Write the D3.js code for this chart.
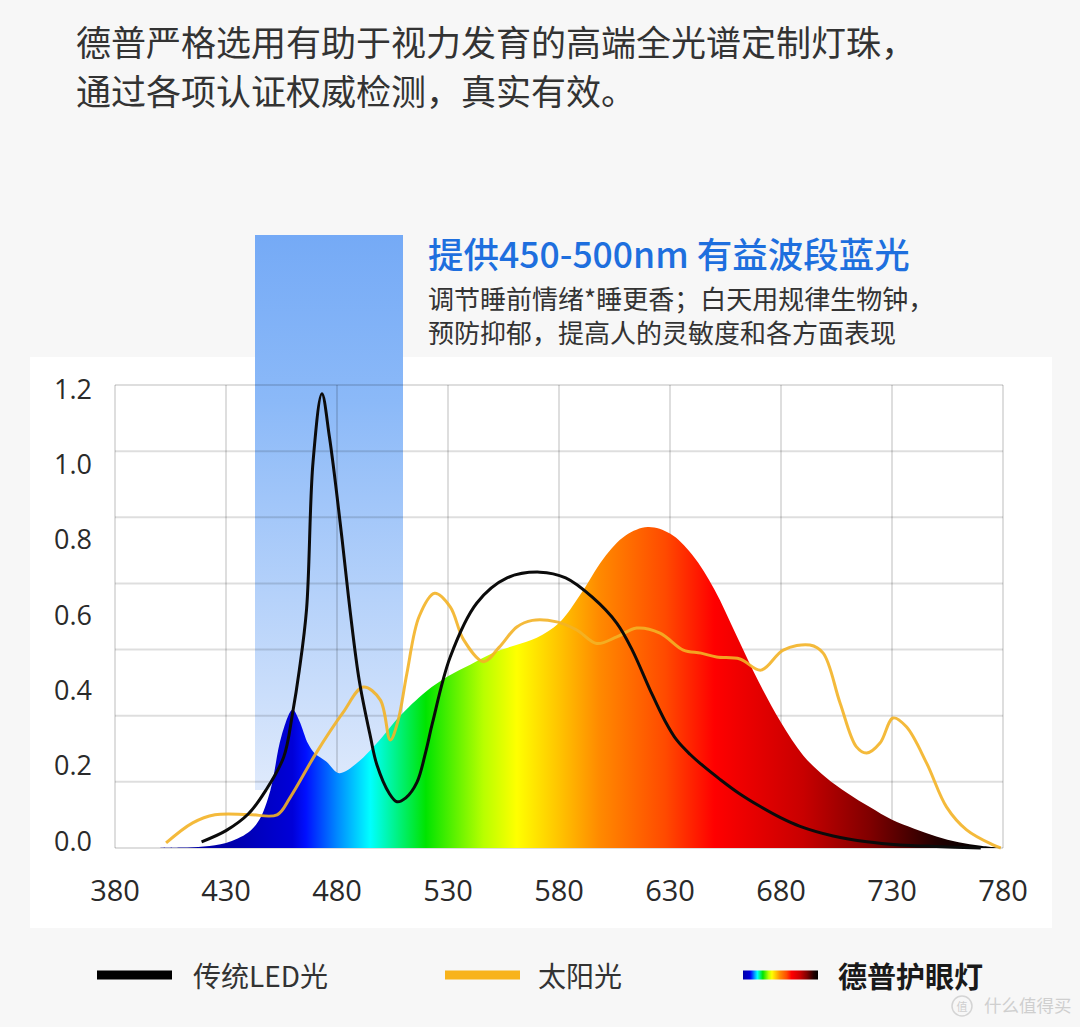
<!DOCTYPE html>
<html>
<head>
<meta charset="utf-8">
<script src="https://cdn.jsdelivr.net/npm/d3@7"></script>
<style>
  html, body { margin: 0; padding: 0; background: #f7f7f7; }
  svg { display: block; }
</style>
</head>
<body>
<svg id="chart" width="1080" height="1027"></svg>
<script>
// ---------- DATA ----------
const titleLines = ["德普严格选用有助于视力发育的高端全光谱定制灯珠，", "通过各项认证权威检测，真实有效。"];
const calloutTitle = "提供450-500nm 有益波段蓝光";
const calloutLines = ["调节睡前情绪*睡更香；白天用规律生物钟，", "预防抑郁，提高人的灵敏度和各方面表现"];
const seriesNames = ["传统LED光", "太阳光", "德普护眼灯"];
const xTicks = [380, 430, 480, 530, 580, 630, 680, 730, 780];
const yTicks = [0.0, 0.2, 0.4, 0.6, 0.8, 1.0, 1.2];
const blueBand = [450, 500];

// 德普护眼灯 spectrum (nm, relative intensity)
const lampNm  = [400, 410, 420, 430, 440, 445, 450, 455, 460, 463, 467, 470, 475, 481, 489, 500, 508, 520, 530, 540, 550, 560, 570, 580, 590, 600, 610, 620, 630, 640, 650, 660, 670, 680, 690, 700, 710, 720, 730, 740, 750, 760, 770, 780];
const lampVal = [0, 0.001, 0.004, 0.013, 0.04, 0.073, 0.15, 0.29, 0.358, 0.33, 0.27, 0.245, 0.225, 0.194, 0.22, 0.285, 0.34, 0.405, 0.445, 0.475, 0.505, 0.525, 0.545, 0.583, 0.66, 0.75, 0.81, 0.832, 0.815, 0.76, 0.67, 0.55, 0.43, 0.325, 0.24, 0.184, 0.142, 0.106, 0.073, 0.05, 0.03, 0.015, 0.006, 0];

// 传统LED光
const ledNm  = [419, 430, 440, 448, 456, 460, 463, 466.3, 469.2, 473.2, 476.6, 482.3, 486, 490, 495, 498, 503.5, 507, 511, 516, 520, 523, 531, 543, 556.6, 571.4, 583, 595, 606, 613, 621, 627.7, 633, 639, 645.5, 652.5, 661, 670.5, 680, 688.6, 703.5, 718.7, 733.6, 750, 770];
const ledVal = [0.016, 0.045, 0.088, 0.15, 0.236, 0.35, 0.46, 0.62, 1.0, 1.177, 1.065, 0.8, 0.61, 0.435, 0.29, 0.215, 0.142, 0.12, 0.13, 0.17, 0.25, 0.324, 0.495, 0.635, 0.70, 0.715, 0.70, 0.65, 0.583, 0.513, 0.41, 0.33, 0.28, 0.243, 0.21, 0.178, 0.142, 0.108, 0.078, 0.056, 0.031, 0.016, 0.008, 0.004, 0];

// 太阳光
const sunNm  = [403, 415, 425, 440, 453, 459, 470.6, 482.6, 491.8, 499.5, 504, 507.5, 511.5, 517, 524, 531, 537, 546, 553, 561, 568, 579, 588, 597, 606, 615, 625.5, 636, 644, 651, 661.5, 671, 681, 693, 699, 706.6, 714, 718.6, 724.6, 730.5, 736.5, 745.6, 754.6, 763.6, 775.5, 779];
const sunVal = [0.013, 0.065, 0.086, 0.087, 0.086, 0.132, 0.246, 0.35, 0.417, 0.384, 0.28, 0.33, 0.453, 0.6, 0.66, 0.625, 0.54, 0.483, 0.52, 0.573, 0.59, 0.586, 0.565, 0.53, 0.547, 0.57, 0.557, 0.513, 0.505, 0.495, 0.49, 0.461, 0.513, 0.526, 0.505, 0.376, 0.262, 0.246, 0.272, 0.337, 0.314, 0.22, 0.106, 0.047, 0.008, 0];

// spectrum colour stops (nm, colour)
const specStopNm    = [430, 460, 466, 480, 495, 520, 546, 561, 580, 598, 628, 650, 690, 720, 750, 770];
const specStopColor = ["#0000a8", "#0000d8", "#0010ff", "#0088ff", "#00ffff", "#00e400", "#b8ff00", "#ffff00", "#ffc400", "#ff8a00", "#ff4a00", "#ff0000", "#c80000", "#800000", "#220000", "#000000"];

// ---------- DRAW ----------
const svg = d3.select("#chart");
const W = 1080, H = 1027;

const x = d3.scaleLinear().domain([380, 780]).range([115, 1003]);
const y = d3.scaleLinear().domain([0, 1.2]).range([848, 385]);
// tick labels sit on their own (slightly different) spacing in the original
const yLab = d3.scaleLinear().domain([0, 1.2]).range([840, 388]);

svg.append("rect").attr("width", W).attr("height", H).attr("fill", "#f7f7f7");
svg.append("rect").attr("x", 30).attr("y", 357).attr("width", 1022).attr("height", 571).attr("fill", "#ffffff");

const defs = svg.append("defs");
const bandGrad = defs.append("linearGradient").attr("id", "bandGrad")
  .attr("x1", 0).attr("y1", 0).attr("x2", 0).attr("y2", 1);
bandGrad.append("stop").attr("offset", "0%").attr("stop-color", "#75aaf6");
bandGrad.append("stop").attr("offset", "30%").attr("stop-color", "#8bb9f8");
bandGrad.append("stop").attr("offset", "100%").attr("stop-color", "#dfeafc");

const specGrad = defs.append("linearGradient").attr("id", "specGrad")
  .attr("gradientUnits", "userSpaceOnUse")
  .attr("x1", x(380)).attr("y1", 0).attr("x2", x(780)).attr("y2", 0);
specStopNm.forEach((nm, i) => {
  specGrad.append("stop").attr("offset", (nm - 380) / 400).attr("stop-color", specStopColor[i]);
});
const legGrad = defs.append("linearGradient").attr("id", "legGrad");
specStopNm.forEach((nm, i) => {
  legGrad.append("stop").attr("offset", (nm - 430) / 340).attr("stop-color", specStopColor[i]);
});

// blue band highlight
svg.append("rect")
  .attr("x", 255).attr("y", 235)
  .attr("width", 148).attr("height", 790 - 235)
  .attr("fill", "url(#bandGrad)");

// grid
const g = svg.append("g");
const gridRows = d3.range(8).map(i => 848 - i * (848 - 385) / 7);
g.selectAll(".hg").data(gridRows).join("line")
  .attr("x1", x(380)).attr("x2", x(780))
  .attr("y1", d => d).attr("y2", d => d)
  .attr("stroke", "rgba(0,0,0,0.13)").attr("stroke-width", 2);
g.selectAll(".vg").data(xTicks).join("line")
  .attr("x1", d => x(d)).attr("x2", d => x(d))
  .attr("y1", 385).attr("y2", 848)
  .attr("stroke", "rgba(0,0,0,0.13)").attr("stroke-width", 2);

// spectrum area
const lampData = lampNm.map((d, i) => [d, lampVal[i]]);
const ledData = ledNm.map((d, i) => [d, ledVal[i]]);
const sunData = sunNm.map((d, i) => [d, sunVal[i]]);
const curve = d3.curveCatmullRom.alpha(0.5);

svg.append("path").datum(lampData)
  .attr("fill", "url(#specGrad)")
  .attr("d", d3.area().x(d => x(d[0])).y0(y(0)).y1(d => y(Math.max(0, d[1]))).curve(curve));

svg.append("path").datum(sunData)
  .attr("fill", "none").attr("stroke", "#f3b226").attr("stroke-width", 3).attr("stroke-opacity", 0.9)
  .attr("d", d3.line().x(d => x(d[0])).y(d => y(d[1])).curve(curve));

svg.append("path").datum(ledData)
  .attr("fill", "none").attr("stroke", "#0b0b0b").attr("stroke-width", 3)
  .attr("d", d3.line().x(d => x(d[0])).y(d => y(d[1])).curve(curve));

// axes labels
const numFont = "'Open Sans', 'Noto Sans', sans-serif";
svg.selectAll(".yl").data(yTicks).join("text")
  .attr("x", 92).attr("y", d => yLab(d))
  .attr("text-anchor", "end").attr("dominant-baseline", "central")
  .attr("font-family", numFont).attr("font-size", 27).attr("fill", "#2a2a2a")
  .text(d => d.toFixed(1));
svg.selectAll(".xl").data(xTicks).join("text")
  .attr("x", d => x(d)).attr("y", 889)
  .attr("text-anchor", "middle").attr("dominant-baseline", "central")
  .attr("font-family", numFont).attr("font-size", 29).attr("fill", "#2a2a2a")
  .text(d => d);

// title
const cjk = "'Noto Sans CJK SC', 'Noto Sans', sans-serif";
svg.selectAll(".tt").data(titleLines).join("text")
  .attr("x", 76).attr("y", (d, i) => 40 + i * 49)
  .attr("dominant-baseline", "central")
  .attr("font-family", cjk).attr("font-size", 35).attr("fill", "#333333")
  .text(d => d);

// callout
svg.append("text")
  .attr("x", 428).attr("y", 252).attr("dominant-baseline", "central")
  .attr("font-family", cjk).attr("font-size", 35.5).attr("font-weight", 500).attr("fill", "#1e6fde")
  .text(calloutTitle);
svg.selectAll(".cl").data(calloutLines).join("text")
  .attr("x", 428).attr("y", (d, i) => 297 + i * 34)
  .attr("dominant-baseline", "central")
  .attr("font-family", cjk).attr("font-size", 26).attr("fill", "#333333")
  .text(d => d);

// legend
const legY = 975;
svg.append("rect").attr("x", 97).attr("y", legY - 4.5).attr("width", 75).attr("height", 9).attr("fill", "#000000");
svg.append("text").attr("x", 193).attr("y", legY).attr("dominant-baseline", "central")
  .attr("font-family", cjk).attr("font-size", 28).attr("fill", "#333333").text(seriesNames[0]);
svg.append("rect").attr("x", 445).attr("y", legY - 4.5).attr("width", 75).attr("height", 9).attr("fill", "#f8b31c");
svg.append("text").attr("x", 538).attr("y", legY).attr("dominant-baseline", "central")
  .attr("font-family", cjk).attr("font-size", 28).attr("fill", "#333333").text(seriesNames[1]);
svg.append("rect").attr("x", 743).attr("y", legY - 4.5).attr("width", 75).attr("height", 9).attr("fill", "url(#legGrad)");
svg.append("text").attr("x", 838).attr("y", legY).attr("dominant-baseline", "central")
  .attr("font-family", cjk).attr("font-size", 29).attr("font-weight", 700).attr("fill", "#1a1a1a").text(seriesNames[2]);

// watermark
svg.append("circle").attr("cx", 962).attr("cy", 1006).attr("r", 10).attr("fill", "none").attr("stroke", "#d4d4d4").attr("stroke-width", 1.5);
svg.append("text").attr("x", 962).attr("y", 1006).attr("text-anchor", "middle").attr("dominant-baseline", "central")
  .attr("font-family", cjk).attr("font-size", 11).attr("fill", "#cfcfcf").text("值");
svg.append("text").attr("x", 984).attr("y", 1004).attr("dominant-baseline", "central")
  .attr("font-family", cjk).attr("font-size", 17.5).attr("fill", "#cfcfcf").text("什么值得买");
</script>
</body>
</html>
